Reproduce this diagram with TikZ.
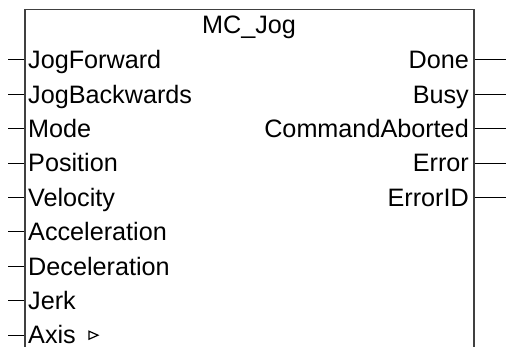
\documentclass[tikz,border=0pt]{standalone}
\usepackage{fontspec}
\setmainfont{Liberation Sans}
\usetikzlibrary{positioning}

\tikzset{
  fbbox/.style={draw=black!75, line width=1.5pt, inner sep=0pt},
  pinlabel/.style={inner sep=0pt, text height=17.5pt, text depth=0pt,
    font=\fontsize{25.2}{28}\selectfont},
  pin/.style={draw=black, line width=1pt},
  axistri/.style={draw=black, line width=1.2pt, line join=miter}
}

\begin{document}
\begin{tikzpicture}[x=1pt, y=-1pt]
\useasboundingbox (0,0) rectangle (506,347);
\clip (0,0) rectangle (506,347);

\node[fbbox, anchor=north west, minimum width=449pt, minimum height=338pt] (fb) at (24,9) {};
\node[pinlabel] (title) at (249,25.25) {MC\_Jog};

% inputs
\node[pinlabel, anchor=west] (jogfwd) at (28,60) {JogForward};
\node[pinlabel, below right=16.5pt and 0pt of jogfwd.south west] (jogbwd) {JogBackwards};
\node[pinlabel, below right=16.5pt and 0pt of jogbwd.south west] (mode) {Mode};
\node[pinlabel, below right=16.5pt and 0pt of mode.south west] (pos) {Position};
\node[pinlabel, below right=16.5pt and 0pt of pos.south west] (vel) {Velocity};
\node[pinlabel, below right=16.5pt and 0pt of vel.south west] (acc) {Acceleration};
\node[pinlabel, below right=16.5pt and 0pt of acc.south west] (dec) {Deceleration};
\node[pinlabel, below right=16.5pt and 0pt of dec.south west] (jerk) {Jerk};
\node[pinlabel, below right=16.5pt and 0pt of jerk.south west] (axis) {Axis};

% outputs
\node[pinlabel, anchor=east] (done) at (469,60) {Done};
\node[pinlabel, below left=16.5pt and 0pt of done.south east] (busy) {Busy};
\node[pinlabel, below left=16.5pt and 0pt of busy.south east] (aborted) {CommandAborted};
\node[pinlabel, below left=16.5pt and 0pt of aborted.south east] (error) {Error};
\node[pinlabel, below left=16.5pt and 0pt of error.south east] (errorid) {ErrorID};

% pins
\foreach \n in {jogfwd,jogbwd,mode,pos,vel,acc,dec,jerk,axis}
  \draw[pin] (fb.west |- \n.west) -- ++(-16,0);
\foreach \n in {done,busy,aborted,error,errorid}
  \draw[pin] (fb.east |- \n.east) -- ++(34,0);

% reference marker
\draw[axistri] ([xshift=13pt]axis.east) -- ++(0,-4) -- ++(9,4) -- ++(-9,4) -- cycle;
\end{tikzpicture}
\end{document}
